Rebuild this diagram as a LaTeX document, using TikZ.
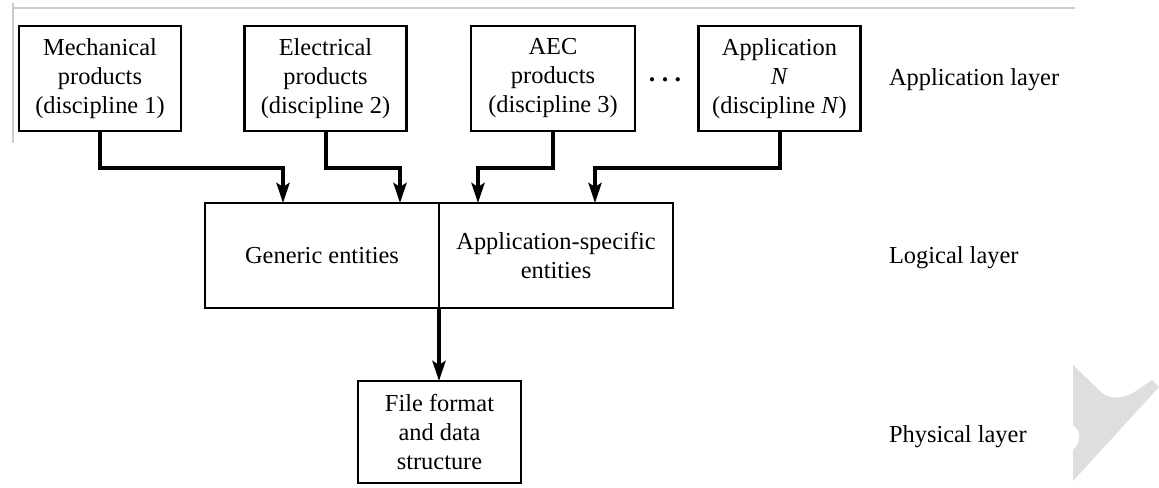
\documentclass[tikz,border=0pt]{standalone}
\usepackage{fontspec}
\setmainfont{Liberation Serif}
\usetikzlibrary{arrows.meta}
\begin{document}
\begin{tikzpicture}[x=0.5pt,y=-0.5pt,
  txt/.style={font=\fontsize{12.2}{14.5}\selectfont},
  box/.style={txt, draw, line width=1.2pt, align=center, inner sep=0pt, outer sep=0pt},
  appbox/.style={box, minimum width=81pt, minimum height=52.5pt},
  conn/.style={line width=2pt, -{Stealth[length=10pt,width=6.5pt,inset=2pt]}},
  layer/.style={txt, anchor=west},
  frame/.style={draw=black!20, line width=0.8pt}]
\useasboundingbox (0,0) rectangle (1159,487);

% light frame at the top left
\draw[frame] (13,3) -- (13,143);
\draw[frame] (12,8) -- (1075,8);

% application layer
\node[appbox] (mech) at (100,78.5) {Mechanical\\products\\(discipline 1)};
\node[appbox] (elec) at (325.5,78.5) {Electrical\\products\\(discipline 2)};
\node[appbox, minimum width=82pt] (aec) at (553,78.5) {AEC\\products\\(discipline 3)};
\node[appbox] (appn) at (779.5,78.5) {Application\\\textit{N}\\(discipline \textit{N})};
\node[txt, font=\fontsize{13}{14.5}\selectfont\bfseries] (dots) at (665,80) {.\hspace{3.2pt}.\hspace{3.2pt}.};

% logical layer
\node[box, minimum width=117pt, minimum height=52.5pt] (gen) at (322,255.5) {Generic entities};
\node[box, minimum width=117pt, minimum height=52.5pt] (spec) at (556,255.5) {Application-specific\\entities};

% physical layer
\node[box, minimum width=81.5pt, minimum height=51pt] (file) at (439.5,432) {File format\\and data\\structure};

% layer labels
\node[layer] (lapp) at (882,80) {Application layer};
\node[layer] (llog) at (882,258) {Logical layer};
\node[layer] (lphy) at (882,437) {Physical layer};

% connectors
\draw[conn] (mech.south) -- ++(0,37) -| ([xshift=39pt]gen.north west);
\draw[conn] (elec.south) -- ++(0,37) -| ([xshift=97.5pt]gen.north west);
\draw[conn] (aec.south) -- ++(0,37) -| ([xshift=19.5pt]spec.north west);
\draw[conn] (appn.south) -- ++(0,37) -| ([xshift=78pt]spec.north west);
\draw[conn] (gen.south east) -- (gen.south east |- file.north);

% pale chevron mark at the lower right
\fill[black!13] (1073,365) -- (1101,392)
  .. controls (1110,400) and (1124,399) .. (1136,391)
  -- (1152,380) -- (1159,387) -- (1073,481) -- (1073,450)
  .. controls (1082,442) and (1081,430) .. (1073,425) -- cycle;
\end{tikzpicture}
\end{document}
